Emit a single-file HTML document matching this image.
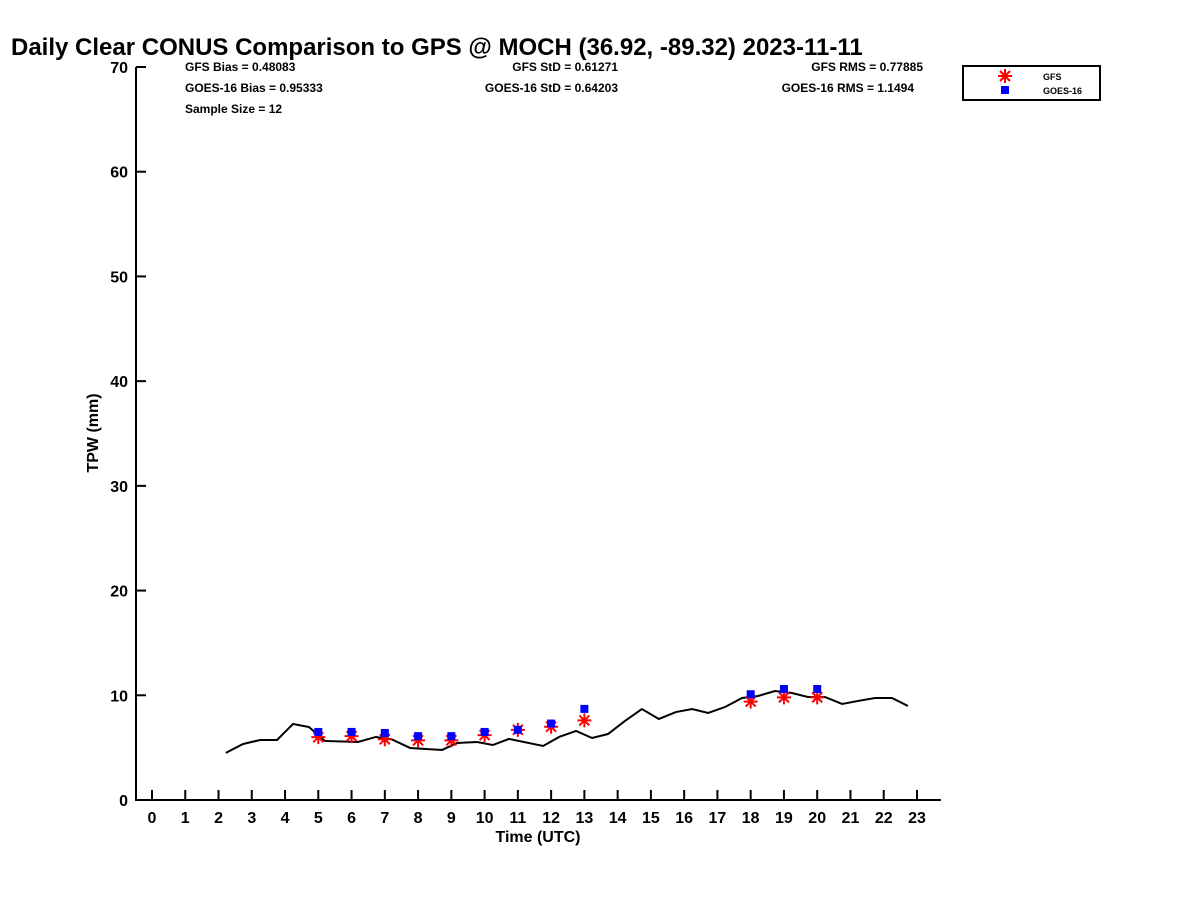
<!DOCTYPE html>
<html><head><meta charset="utf-8"><style>
body{margin:0;background:#fff;}
svg{display:block;font-family:"Liberation Sans","DejaVu Sans",sans-serif;font-weight:bold;}
</style></head><body>
<svg id="c" width="1200" height="900" viewBox="0 0 1200 900">
<text x="11" y="55" font-size="24" fill="#000">Daily Clear CONUS Comparison to GPS @ MOCH (36.92, -89.32) 2023-11-11</text>
<g font-size="12" fill="#000">
<text x="185" y="71">GFS Bias = 0.48083</text>
<text x="185" y="92">GOES-16 Bias = 0.95333</text>
<text x="185" y="113">Sample Size = 12</text>
<text x="618" y="71" text-anchor="end">GFS StD = 0.61271</text>
<text x="618" y="92" text-anchor="end">GOES-16 StD = 0.64203</text>
<text x="923" y="71" text-anchor="end">GFS RMS = 0.77885</text>
<text x="914" y="92" text-anchor="end">GOES-16 RMS = 1.1494</text>
</g>
<g>
<rect x="963" y="66" width="137" height="34" fill="#fff" stroke="#000" stroke-width="2"/>
<g stroke="red" stroke-width="2">
<line x1="998" y1="76" x2="1012" y2="76"/><line x1="1005" y1="69" x2="1005" y2="83"/><line x1="1000" y1="71" x2="1010" y2="81"/><line x1="1000" y1="81" x2="1010" y2="71"/></g>
<rect x="1001" y="86" width="8" height="8" fill="blue"/>
<text x="1043" y="80" font-size="9">GFS</text>
<text x="1043" y="94" font-size="9">GOES-16</text>
</g>
<g id="plot"></g>
<text x="538" y="842" font-size="16" text-anchor="middle">Time (UTC)</text>
<text transform="translate(98,433) rotate(-90)" font-size="16" text-anchor="middle">TPW (mm)</text>
</svg>
<script>
const gpsTimes=[2.22,2.74,3.25,3.76,4.24,4.72,5.2,6.19,6.73,7.2,7.76,8.72,9.17,9.77,10.25,10.73,11.76,12.24,12.75,13.23,13.71,14.22,14.73,15.24,15.75,16.24,16.72,17.23,17.74,18.22,18.73,19.24,19.72,20.23,20.75,21.23,21.74,22.25,22.73];
const gpsValues=[4.5,5.35,5.73,5.73,7.26,6.97,5.64,5.54,6.02,5.8,4.97,4.78,5.44,5.54,5.25,5.83,5.16,6.02,6.59,5.92,6.3,7.55,8.69,7.74,8.4,8.69,8.31,8.88,9.74,9.93,10.41,10.22,9.84,9.84,9.17,9.46,9.74,9.74,8.98];
const satHours=[5,6,7,8,9,10,11,12,13,18,19,20];
const gfsValues=[6.0,6.1,5.8,5.7,5.7,6.2,6.7,7.0,7.6,9.4,9.8,9.8];
const goesValues=[6.5,6.5,6.4,6.1,6.1,6.5,6.7,7.3,8.7,10.1,10.6,10.6];
const xTicks=[0,1,2,3,4,5,6,7,8,9,10,11,12,13,14,15,16,17,18,19,20,21,22,23];
const yTicks=[0,10,20,30,40,50,60,70];
const NS='http://www.w3.org/2000/svg';
const g=document.getElementById('plot');
const X0=152,XS=33.26,Y0=800,YS=733/70;
const sx=h=>X0+h*XS, sy=v=>Y0-v*YS;
function mk(t,a){const e=document.createElementNS(NS,t);for(const k in a)e.setAttribute(k,a[k]);g.appendChild(e);return e;}
let ax=mk('path',{d:'M136,67 L136,800 L941,800',fill:'none',stroke:'#000','stroke-width':2});


xTicks.forEach(t=>{
 const l=mk('line',{x1:sx(t),x2:sx(t),y1:800,y2:790,stroke:'#000','stroke-width':2});
 
 
 const tx=mk('text',{x:sx(t),y:823,'font-size':16,'text-anchor':'middle'});tx.textContent=t;
 
 
});
yTicks.forEach(t=>{
 const l=mk('line',{x1:136,x2:146,y1:sy(t),y2:sy(t),stroke:'#000','stroke-width':2});
 
 
 const tx=mk('text',{x:128,y:sy(t)+6,'font-size':16,'text-anchor':'end'});tx.textContent=t;
 
 
});
const line=mk('polyline',{points:gpsTimes.map((t,i)=>sx(t)+','+sy(gpsValues[i])).join(' '),fill:'none',stroke:'#000','stroke-width':2});


satHours.forEach((h,i)=>{
 const cx=sx(h),cy=sy(gfsValues[i]);
 const s=mk('path',{d:`M${cx-7},${cy} L${cx+7},${cy} M${cx},${cy-7} L${cx},${cy+7} M${cx-5},${cy-5} L${cx+5},${cy+5} M${cx-5},${cy+5} L${cx+5},${cy-5}`,stroke:'red','stroke-width':2});
 
 
 const r=mk('rect',{x:sx(h)-4,y:sy(goesValues[i])-4,width:8,height:8,fill:'blue'});
 
 
});
</script>
</body></html>
